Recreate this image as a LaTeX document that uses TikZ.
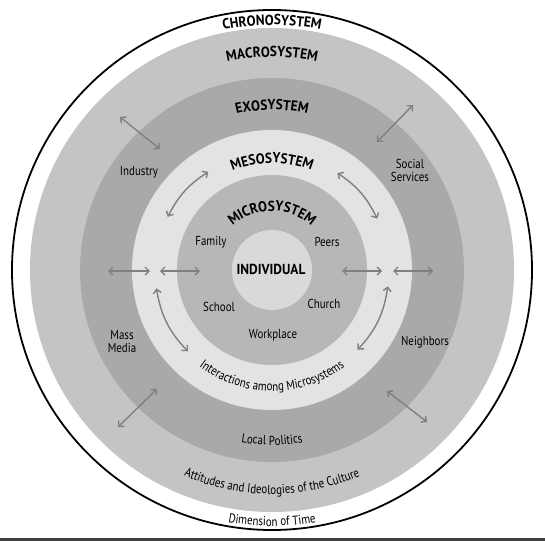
\documentclass[tikz,border=0pt]{standalone}
\usepackage{fontspec}
\usetikzlibrary{arrows.meta,decorations.text}
\newfontfamily\sysfont{PT Sans}[FakeStretch=0.84]
\newfontfamily\sysboldfont{PT Sans Bold}[FakeStretch=0.92]
\newcommand\ringtitle{\fontsize{14.5}{14.5}\selectfont\sysboldfont}
\newcommand\ringtext{\fontsize{13}{13}\selectfont\sysfont}
\definecolor{macrogray}{RGB}{196,196,196}
\definecolor{exogray}{RGB}{169,169,169}
\definecolor{mesogray}{RGB}{227,227,227}
\definecolor{microgray}{RGB}{183,183,183}
\definecolor{selfgray}{RGB}{217,217,217}
\definecolor{arrowgray}{RGB}{128,128,128}
\tikzset{
  toptitle/.style={decorate, decoration={text along path, text align=center,
      text={|\ringtitle|#1}}},
  bottomtext/.style={decorate, decoration={text along path, text align=center,
      text={|\ringtext|#1}}}
}
\begin{document}
\begin{tikzpicture}[x=1pt,y=1pt]
\useasboundingbox (-272,-271) rectangle (273,270);
\coordinate (c) at (0,0);
% rings, outside in
\draw[line width=1.8pt, fill=white] (c) circle[radius=260];
\fill[macrogray] (c) circle[radius=242];
\fill[exogray] (c) circle[radius=192];
\fill[mesogray] (c) circle[radius=140];
\fill[microgray] (c) circle[radius=95];
\fill[selfgray] (c) circle[radius=40];
\fill[black!75] (-272,-271) rectangle (273,-268);
% ring titles
\path[toptitle=CHRONOSYSTEM] (170:245) arc[start angle=170, end angle=10, radius=245];
\path[toptitle=MACROSYSTEM] (170:213) arc[start angle=170, end angle=10, radius=213];
\path[toptitle=EXOSYSTEM] (170:160) arc[start angle=170, end angle=10, radius=160];
\path[toptitle=MESOSYSTEM] (170:107) arc[start angle=170, end angle=10, radius=107];
\path[toptitle=MICROSYSTEM] (170:59) arc[start angle=170, end angle=10, radius=59];
\path[bottomtext=Interactions among Microsystems] (190:121) arc[start angle=190, end angle=350, radius=121];
\path[bottomtext=Local Politics] (190:175) arc[start angle=190, end angle=350, radius=175];
\path[bottomtext=Attitudes and Ideologies of the Culture] (190:224) arc[start angle=190, end angle=350, radius=224];
\path[bottomtext=Dimension of Time] (190:256) arc[start angle=190, end angle=350, radius=256];
% labels
\begin{scope}[every node/.style={font=\ringtext, align=center, inner sep=0pt}]
  \node (individual) at (-1,1) {\ringtitle INDIVIDUAL};
  \node (family) at (-61,28) {Family};
  \node (peers) at (55,28) {Peers};
  \node (school) at (-53,-37) {School};
  \node (church) at (52,-34) {Church};
  \node (workplace) at (1,-65) {Workplace};
  \node (industry) at (-133,98) {Industry};
  \node (services) at (138,100) {Social\\Services};
  \node (media) at (-150,-72) {Mass\\Media};
  \node (neighbors) at (153,-72) {Neighbors};
\end{scope}
% arrow ends
\coordinate (lo1) at (-164,-1);  \coordinate (lo2) at (-122,-1);
\coordinate (li1) at (-112,-1);  \coordinate (li2) at (-72,-1);
\coordinate (ri1) at (70,-1);    \coordinate (ri2) at (110,-1);
\coordinate (ro1) at (121,-1);   \coordinate (ro2) at (161,-1);
\coordinate (tl1) at (-152,153); \coordinate (tl2) at (-112,121);
\coordinate (tr1) at (141,165);  \coordinate (tr2) at (105,128);
\coordinate (bl1) at (-115,-119); \coordinate (bl2) at (-154,-157);
\coordinate (br1) at (115,-121); \coordinate (br2) at (155,-152);
\coordinate (mtl1) at (123:117); \coordinate (mtl2) at (153:117);
\coordinate (mtr1) at (26:117);  \coordinate (mtr2) at (56:117);
\coordinate (mbl1) at (189:117); \coordinate (mbl2) at (224:117);
\coordinate (mbr1) at (317:117); \coordinate (mbr2) at (352:117);
\begin{scope}[every edge/.style={draw=arrowgray, line width=1.4pt,
    {Straight Barb[length=4pt,width=8pt]}-{Straight Barb[length=4pt,width=8pt]}}]
  \path (lo1) edge (lo2);
  \path (li1) edge (li2);
  \path (ri1) edge (ri2);
  \path (ro1) edge (ro2);
  \path (tl1) edge (tl2);
  \path (tr1) edge (tr2);
  \path (bl1) edge (bl2);
  \path (br1) edge (br2);
  \path (mtl1) edge[bend right=15] (mtl2);
  \path (mtr1) edge[bend right=15] (mtr2);
  \path (mbl1) edge[bend right=17] (mbl2);
  \path (mbr1) edge[bend right=17] (mbr2);
\end{scope}
\end{tikzpicture}
\end{document}
